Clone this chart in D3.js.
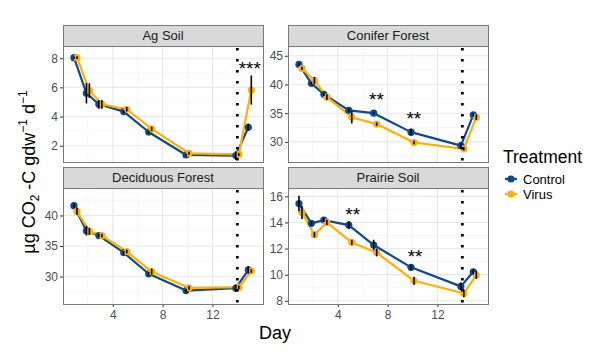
<!DOCTYPE html>
<html>
<head>
<meta charset="utf-8">
<script src="https://cdn.jsdelivr.net/npm/d3@7"></script>
<style>
	body { margin: 0; background: #fff; }
	svg { display: block; font-family: "Liberation Sans", Arial, sans-serif; }
	.tick-label { fill: #4d4d4d; font-size: 12px; }
	.strip-text { fill: #1a1a1a; font-size: 13px; }
</style>
</head>
<body>
<div id="chart"></div>
<script>
// data
const days = [1, 2, 3, 5, 7, 10, 14, 15];
const treatments = ['Control', 'Virus'];
const panelNames = ['Ag Soil', 'Conifer Forest', 'Deciduous Forest', 'Prairie Soil'];

const agControl = [8.04, 5.6, 4.84, 4.34, 2.94, 1.36, 1.32, 3.26];
const agVirus = [8.04, 5.78, 4.84, 4.5, 3.15, 1.48, 1.4, 5.82];
const agControlSe = [0.1, 0.7, 0.3, 0.1, 0.1, 0.1, 0.3, 0.25];
const agVirusSe = [0.1, 0.5, 0.3, 0.15, 0.15, 0.1, 0.1, 1.0];

const coniferControl = [43.5, 40.2, 38.3, 35.5, 35.0, 31.7, 29.35, 34.7];
const coniferVirus = [42.8, 40.7, 37.8, 34.3, 33.1, 29.9, 28.8, 34.3];
const coniferControlSe = [0.3, 0.3, 0.3, 0.3, 0.2, 0.6, 0.5, 0.3];
const coniferVirusSe = [0.3, 0.6, 0.5, 1.1, 0.3, 0.3, 0.3, 0.5];

const deciduousControl = [41.6, 37.5, 36.7, 33.9, 30.45, 27.7, 28.1, 31.1];
const deciduousVirus = [40.7, 37.4, 36.7, 34.1, 30.8, 28.15, 28.25, 30.9];
const deciduousControlSe = [0.4, 0.8, 0.3, 0.3, 0.3, 0.3, 0.6, 0.6];
const deciduousVirusSe = [0.6, 0.6, 0.3, 0.3, 0.5, 0.3, 0.3, 0.3];

const prairieControl = [15.45, 13.93, 14.18, 13.8, 12.27, 10.56, 9.1, 10.22];
const prairieVirus = [14.77, 13.06, 14.0, 12.47, 11.7, 9.53, 8.57, 9.97];
const prairieControlSe = [0.6, 0.15, 0.15, 0.3, 0.4, 0.2, 0.3, 0.2];
const prairieVirusSe = [0.5, 0.2, 0.2, 0.2, 0.3, 0.3, 0.3, 0.3];

const xTicks = [4, 8, 12];
const agTicks = [2, 4, 6, 8];
const coniferTicks = [30, 35, 40, 45];
const deciduousTicks = [30, 35, 40];
const prairieTicks = [8, 10, 12, 14, 16];

const yDomains = [[0.88, 8.84], [26.5, 46.7], [25.5, 44.5], [7.75, 16.64]];
const xDomain = [0, 16.06];
const pulseDay = 14;

// significance labels: panel index, day, value, label
const starPanel = [0, 1, 1, 3, 3];
const starDay = [15.0, 7.1, 10.1, 5.2, 10.2];
const starValue = [7.4, 37.6, 34.3, 14.7, 11.5];
const starLabel = ['***', '**', '**', '**', '**'];

const colors = { Control: '#0d4a8c', Virus: '#ffb000' };
const dodge = { Control: -0.12, Virus: 0.12 };

const series = [
	[agControl, agVirus, agControlSe, agVirusSe, agTicks],
	[coniferControl, coniferVirus, coniferControlSe, coniferVirusSe, coniferTicks],
	[deciduousControl, deciduousVirus, deciduousControlSe, deciduousVirusSe, deciduousTicks],
	[prairieControl, prairieVirus, prairieControlSe, prairieVirusSe, prairieTicks]
];

// dimension stuff
const width = 595;
const height = 352;
const colLeft = [63, 288];
const panelWidth = 200;
const rowTop = [25, 167];
const stripHeight = 21;
const panelHeight = 116;

const $svg = d3.select('#chart').append('svg')
	.attr('width', width)
	.attr('height', height);

function minorTicks(ticks, domain) {
	const step = ticks[1] - ticks[0];
	const out = [];
	for (let i = -1; i < ticks.length; i++) {
		const v = ticks[0] + step * i + step / 2;
		if (v > domain[0] && v < domain[1]) out.push(v);
	}
	return out;
}

function createPanel(i) {
	const [ctrl, vir, ctrlSe, virSe, yTicks] = series[i];
	const col = i % 2;
	const row = Math.floor(i / 2);
	const left = colLeft[col];
	const stripTop = rowTop[row];
	const top = stripTop + stripHeight;

	const scaleX = d3.scaleLinear().domain(xDomain).range([left, left + panelWidth]);
	const scaleY = d3.scaleLinear().domain(yDomains[i]).range([top + panelHeight, top]);

	const $g = $svg.append('g').attr('class', 'panel');

	// strip
	$g.append('rect')
		.attr('x', left + 0.5)
		.attr('y', stripTop + 0.5)
		.attr('width', panelWidth)
		.attr('height', stripHeight)
		.attr('fill', '#d9d9d9')
		.attr('stroke', '#7a7a7a');
	$g.append('text')
		.attr('class', 'strip-text')
		.attr('x', left + panelWidth / 2)
		.attr('y', stripTop + stripHeight / 2 + 4.5)
		.attr('text-anchor', 'middle')
		.text(panelNames[i]);

	// grid
	const $grid = $g.append('g');
	$grid.selectAll('.minor-x').data(minorTicks(xTicks, xDomain)).enter().append('line')
		.attr('x1', d => scaleX(d)).attr('x2', d => scaleX(d))
		.attr('y1', top).attr('y2', top + panelHeight)
		.attr('stroke', '#f2f2f2').attr('stroke-width', 0.6);
	$grid.selectAll('.minor-y').data(minorTicks(yTicks, yDomains[i])).enter().append('line')
		.attr('x1', left).attr('x2', left + panelWidth)
		.attr('y1', d => scaleY(d)).attr('y2', d => scaleY(d))
		.attr('stroke', '#f2f2f2').attr('stroke-width', 0.6);
	$grid.selectAll('.major-x').data(xTicks).enter().append('line')
		.attr('x1', d => scaleX(d)).attr('x2', d => scaleX(d))
		.attr('y1', top).attr('y2', top + panelHeight)
		.attr('stroke', '#e8e8e8').attr('stroke-width', 1.1);
	$grid.selectAll('.major-y').data(yTicks).enter().append('line')
		.attr('x1', left).attr('x2', left + panelWidth)
		.attr('y1', d => scaleY(d)).attr('y2', d => scaleY(d))
		.attr('stroke', '#e8e8e8').attr('stroke-width', 1.1);

	// y axis
	const $yAxis = $g.append('g')
		.attr('transform', `translate(${left}, 0)`)
		.call(d3.axisLeft(scaleY).tickValues(yTicks).tickSize(3).tickPadding(2).tickFormat(d3.format('d')));
	$yAxis.select('.domain').remove();
	$yAxis.selectAll('.tick line').attr('stroke', '#333');
	$yAxis.selectAll('.tick text').attr('class', 'tick-label').attr('font-size', null).attr('font-family', null);

	// x axis on bottom row only
	if (row === 1) {
		const $xAxis = $g.append('g')
			.attr('transform', `translate(0, ${top + panelHeight})`)
			.call(d3.axisBottom(scaleX).tickValues(xTicks).tickSize(3).tickPadding(3));
		$xAxis.select('.domain').remove();
		$xAxis.selectAll('.tick line').attr('stroke', '#333');
		$xAxis.selectAll('.tick text').attr('class', 'tick-label').attr('font-size', null).attr('font-family', null);
	}

	const $vis = $g.append('g');
	const rows = {
		Control: days.map((d, j) => ({ day: d, value: ctrl[j], se: ctrlSe[j] })),
		Virus: days.map((d, j) => ({ day: d, value: vir[j], se: virSe[j] }))
	};

	const line = d3.line()
		.x(d => scaleX(d.day + d.offset))
		.y(d => scaleY(d.value));

	treatments.forEach(t => {
		const pts = rows[t].map(d => Object.assign({ offset: dodge[t] }, d));
		$vis.append('path')
			.datum(pts)
			.attr('d', line)
			.attr('fill', 'none')
			.attr('stroke', colors[t])
			.attr('stroke-width', 2.2)
			.attr('stroke-linejoin', 'round');
	});
	treatments.forEach(t => {
		$vis.selectAll(`.pt-${t}`).data(rows[t]).enter().append('circle')
			.attr('cx', d => scaleX(d.day + dodge[t]))
			.attr('cy', d => scaleY(d.value))
			.attr('r', 3.6)
			.attr('fill', colors[t]);
	});
	treatments.forEach(t => {
		$vis.selectAll(`.err-${t}`).data(rows[t]).enter().append('line')
			.attr('x1', d => scaleX(d.day + dodge[t]))
			.attr('x2', d => scaleX(d.day + dodge[t]))
			.attr('y1', d => scaleY(d.value - d.se))
			.attr('y2', d => scaleY(d.value + d.se))
			.attr('stroke', '#000')
			.attr('stroke-width', 1.6);
	});

	// pulse line
	$g.append('line')
		.attr('x1', scaleX(pulseDay)).attr('x2', scaleX(pulseDay))
		.attr('y1', top + 2).attr('y2', top + panelHeight)
		.attr('stroke', '#000')
		.attr('stroke-width', 2.8)
		.attr('stroke-dasharray', '2.6 8.4');

	// significance
	starPanel.forEach((p, k) => {
		if (p !== i) return;
		$g.append('text')
			.attr('x', scaleX(starDay[k]))
			.attr('y', scaleY(starValue[k]) + 8)
			.attr('text-anchor', 'middle')
			.attr('font-size', 19)
			.attr('fill', '#000')
			.text(starLabel[k]);
	});

	// panel border
	$g.append('rect')
		.attr('x', left + 0.5)
		.attr('y', top + 0.5)
		.attr('width', panelWidth)
		.attr('height', panelHeight)
		.attr('fill', 'none')
		.attr('stroke', '#7a7a7a');
}

d3.range(panelNames.length).forEach(createPanel);

// axis titles
$svg.append('text')
	.attr('x', 275)
	.attr('y', 339)
	.attr('text-anchor', 'middle')
	.attr('font-size', 18)
	.attr('fill', '#000')
	.text('Day');

const $yTitle = $svg.append('text')
	.attr('transform', 'translate(35, 172) rotate(-90)')
	.attr('text-anchor', 'middle')
	.attr('font-size', 18)
	.attr('fill', '#000');
$yTitle.append('tspan').text('µg CO');
$yTitle.append('tspan').attr('font-size', 12).attr('dy', 4).text('2');
$yTitle.append('tspan').attr('dy', -4).text(' -C  gdw');
$yTitle.append('tspan').attr('font-size', 12).attr('dy', -8).text('−1');
$yTitle.append('tspan').attr('dy', 8).text('  d');
$yTitle.append('tspan').attr('font-size', 12).attr('dy', -8).text('−1');

// legend
const $legend = $svg.append('g').attr('transform', 'translate(503, 0)');
$legend.append('text')
	.attr('x', 0)
	.attr('y', 163)
	.attr('font-size', 17.5)
	.attr('fill', '#000')
	.text('Treatment');
treatments.forEach((t, k) => {
	const y = 179 + k * 15;
	$legend.append('line')
		.attr('x1', 2).attr('x2', 14)
		.attr('y1', y).attr('y2', y)
		.attr('stroke', colors[t]).attr('stroke-width', 2.2);
	$legend.append('circle')
		.attr('cx', 8).attr('cy', y).attr('r', 3.6)
		.attr('fill', colors[t]);
	$legend.append('text')
		.attr('x', 20)
		.attr('y', y + 4.5)
		.attr('font-size', 13)
		.attr('fill', '#000')
		.text(t);
});
</script>
</body>
</html>
